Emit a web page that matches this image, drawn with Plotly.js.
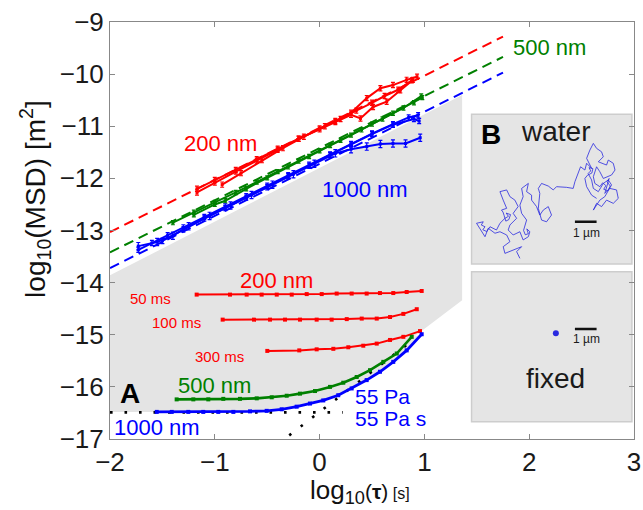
<!DOCTYPE html>
<html><head><meta charset="utf-8">
<script src="https://cdn.plot.ly/plotly-3.0.1.min.js"></script>
<style>html,body{margin:0;padding:0;background:#fff}#chart{width:643px;height:510px}</style>
</head><body><div id="chart"></div>
<script>
// ---------- Data ----------
// Diffusive reference lines (slope 1) in water: log10 MSD = log10 tau + c
const dashX = [-2, 1.75];
const dashRedC = -11.03, dashGreenC = -11.42, dashBlueC = -11.72;

// Upper group (water) - 200 nm (red)
const r1x = [-1.17,-1.0,-0.8,-0.6,-0.4,-0.2,0,0.15,0.3,0.45,0.58,0.7,0.83,0.93];
const r1y = [-12.27,-12.08,-11.87,-11.66,-11.45,-11.24,-11.04,-10.9,-10.74,-10.46,-10.27,-10.21,-10.11,-10.05];
const r2x = [-1.17,-1.0,-0.8,-0.6,-0.4,-0.2,0,0.15,0.3,0.39,0.51,0.64,0.77,0.89];
const r2y = [-12.2,-12.03,-11.84,-11.63,-11.43,-11.24,-11.06,-10.92,-10.78,-10.85,-10.63,-10.53,-10.31,-10.11];
const r3x = [-0.93,-0.75,-0.55,-0.35,-0.15,0.05,0.2,0.35,0.5,0.62,0.75,0.88];
const r3y = [-12.12,-11.9,-11.65,-11.42,-11.2,-11.0,-10.86,-10.7,-10.55,-10.42,-10.3,-10.12];
// 500 nm (green)
const g1x = [-1.4,-1.2,-1.0,-0.8,-0.6,-0.4,-0.2,0,0.2,0.4,0.6,0.8,0.97];
const g1y = [-12.85,-12.65,-12.46,-12.27,-12.07,-11.87,-11.67,-11.47,-11.27,-11.07,-10.86,-10.65,-10.42];
const g2x = [-1.2,-1.0,-0.9,-0.7,-0.5,-0.3,-0.1,0.1,0.3,0.5,0.7,0.9,0.98];
const g2y = [-12.7,-12.5,-12.43,-12.2,-11.99,-11.78,-11.58,-11.37,-11.17,-10.96,-10.75,-10.55,-10.45];
// 1000 nm (blue)
const b1x = [-1.73,-1.6,-1.45,-1.3,-1.1,-0.9,-0.7,-0.5,-0.3,-0.1,0.1,0.3,0.5,0.7,0.85,0.94];
const b1y = [-13.37,-13.24,-13.09,-12.94,-12.74,-12.54,-12.34,-12.14,-11.94,-11.74,-11.54,-11.34,-11.14,-10.96,-10.83,-10.79];
const b2x = [-1.73,-1.55,-1.4,-1.25,-1.05,-0.85,-0.65,-0.45,-0.25,-0.05,0.15,0.3,0.45,0.58,0.7,0.82,0.96];
const b2y = [-13.3,-13.22,-13.1,-12.92,-12.72,-12.52,-12.32,-12.12,-11.92,-11.72,-11.52,-11.44,-11.39,-11.34,-11.33,-11.33,-11.22];
const b3x = [-1.5,-1.3,-1.1,-0.9,-0.7,-0.5,-0.3,-0.1,0.1,0.3,0.5,0.7,0.9,0.95];
const b3y = [-13.2,-12.98,-12.77,-12.57,-12.37,-12.17,-11.96,-11.76,-11.55,-11.35,-11.15,-10.97,-10.86,-10.9];

// Lower group (gel) - 200 nm at different exposure times
const r50x = [-1.173,-0.855,-0.696,-0.553,-0.409,-0.266,-0.123,0.020,0.163,0.306,0.449,0.576,0.703,0.831,0.974];
const r50y = [-14.23,-14.23,-14.23,-14.23,-14.23,-14.23,-14.22,-14.22,-14.21,-14.21,-14.21,-14.20,-14.20,-14.18,-14.16];
const r100x = [-0.925,-0.626,-0.473,-0.330,-0.187,-0.028,0.115,0.259,0.402,0.545,0.672,0.799,0.927];
const r100y = [-14.71,-14.71,-14.71,-14.71,-14.71,-14.71,-14.71,-14.70,-14.69,-14.69,-14.66,-14.60,-14.51];
const r300x = [-0.499,-0.194,-0.028,0.131,0.274,0.417,0.545,0.672,0.799,0.958];
const r300y = [-15.31,-15.30,-15.28,-15.27,-15.24,-15.21,-15.17,-15.10,-15.04,-14.93];
// 500 nm gel
const gLx = [-1.364,-1.205,-1.062,-0.919,-0.760,-0.600,-0.457,-0.314,-0.187,-0.044,0.099,0.226,0.354,0.481,0.608,0.736,0.879];
const gLy = [-16.24,-16.24,-16.24,-16.23,-16.23,-16.22,-16.20,-16.17,-16.13,-16.08,-16.00,-15.92,-15.81,-15.68,-15.52,-15.36,-15.04];
// 1000 nm gel
const bLx = [-1.554,-1.411,-1.253,-1.110,-0.967,-0.823,-0.664,-0.505,-0.362,-0.219,-0.092,0.035,0.178,0.306,0.449,0.576,0.703,0.831,0.974];
const bLy = [-16.48,-16.48,-16.48,-16.48,-16.48,-16.48,-16.47,-16.46,-16.43,-16.38,-16.32,-16.26,-16.16,-16.03,-15.87,-15.71,-15.52,-15.30,-14.99];
// Asymptotes: elastic plateau (55 Pa) and viscous branch (55 Pa s)
const elasX = [-2, 0.22], elasY = [-16.49, -16.49];
const viscX = [-0.29, 0.84], viscY = [-16.93, -15.18];

// Shaded region vertices
const shadeX = [-2, 1.36, 1.36, 0.9];
const shadeY = [-13.86, -10.4, -14.34, -15.04];

// Inset B trajectory in water (µm)
const trajX = [2.23,2.08,2.31,1.92,1.54,1.46,1.77,1.62,1.31,1.08,0.77,0.62,0.38,0.23,0.54,0.45,0.62,0.52,0.70,0.85,1.15,1.31,1.54,1.70,1.60,1.80,1.72,1.58,1.50,1.45,1.38,1.62,1.46,1.31,1.62,1.77,2.00,2.15,1.92,2.08,1.77,1.69,1.92,2.23,2.38,2.62,2.69,2.55,2.62,2.48,2.40,2.46,2.54,2.31,2.23,2.38,2.31,2.62,2.54,2.77,2.77,3.00,3.15,3.31,3.54,3.69,3.46,3.23,3.08,3.15,3.08,3.23,3.54,3.77,3.92,4.38,4.69,4.77,4.92,5.03,5.23,5.31,5.54,5.31,5.46,5.62,5.77,6.00,6.08,5.85,6.23,6.31,6.54,6.62,6.46,6.08,5.92,5.77,5.62,5.69,5.92,6.05,6.20,6.10,6.28,6.40,6.25,6.35,6.15,6.38,6.69,6.77,6.54,6.23,6.00,5.77,5.62,5.92,6.15,6.46,6.31,6.08,5.85,5.62,5.54,5.38,5.50,5.42,5.60,5.55,5.35,5.23,5.31,5.54,5.77];
const trajY = [0.26,0.57,0.80,0.65,0.49,0.80,1.03,1.34,1.49,1.42,1.65,1.26,1.65,1.88,1.95,1.80,1.72,1.58,1.50,1.72,1.57,1.88,2.11,2.20,2.35,2.28,2.05,1.98,2.25,2.40,2.49,2.57,2.95,3.34,3.42,3.11,2.95,2.65,2.34,2.11,1.80,1.57,1.34,1.49,1.11,1.26,1.49,1.62,1.40,1.35,1.55,1.72,2.03,2.34,2.72,3.11,3.49,3.72,3.34,3.18,2.95,2.65,2.26,2.49,2.65,2.26,1.95,2.03,2.57,3.26,3.49,3.72,3.60,3.42,3.57,3.54,3.49,3.80,4.26,4.49,4.34,4.65,4.42,4.88,5.26,5.57,5.34,5.18,4.95,4.72,4.57,4.80,4.65,4.34,4.11,3.95,4.26,4.49,4.03,3.72,3.57,3.75,3.62,3.45,3.38,3.60,3.80,3.95,3.26,3.49,3.42,3.03,2.80,2.95,2.65,2.80,2.49,2.95,3.11,3.65,3.88,3.72,3.34,3.49,3.88,4.18,4.30,4.45,4.40,4.20,4.10,3.95,3.57,3.18,3.03];
const fixedX = [3.89], fixedY = [4.08];

// ---------- Styling ----------
const FONT = 'Liberation Sans, Arial, sans-serif';
const RED = '#ff0000', GREEN = '#008000', BLUE = '#0000ff';

function upper(x, y, c, ev) {
  return {x, y, type:'scatter', mode:'lines+markers', line:{color:c, width:2},
    marker:{color:c, size:3, symbol:'square'},
    error_y:{type:'constant', value:ev, color:c, thickness:1.2, width:2},
    hoverinfo:'skip', showlegend:false, xaxis:'x', yaxis:'y'};
}
function lower(x, y, c, w) {
  return {x, y, type:'scatter', mode:'lines+markers', line:{color:c, width:w},
    marker:{color:c, size:4, symbol:'square'}, hoverinfo:'skip', showlegend:false};
}
function dashLine(c, col) {
  return {x: dashX, y: dashX.map(v => v + c), type:'scatter', mode:'lines',
    line:{color:col, width:2, dash:'10px,6px'}, hoverinfo:'skip', showlegend:false};
}

const traces = [
  {x: shadeX.concat(bLx.slice().reverse(), [-2]), y: shadeY.concat(bLy.slice().reverse(), [-16.48]),
   type:'scatter', mode:'lines', fill:'toself', fillcolor:'#e4e4e4', line:{width:0}, hoverinfo:'skip', showlegend:false},
  dashLine(dashRedC, RED), dashLine(dashGreenC, GREEN), dashLine(dashBlueC, BLUE),
  upper(r1x, r1y, RED, 0.05), upper(r2x, r2y, RED, 0.05), upper(r3x, r3y, RED, 0.05),
  upper(g1x, g1y, GREEN, 0.04), upper(g2x, g2y, GREEN, 0.04),
  upper(b1x, b1y, BLUE, 0.05), upper(b2x, b2y, BLUE, 0.07), upper(b3x, b3y, BLUE, 0.05),
  {x: elasX, y: elasY, type:'scatter', mode:'lines', line:{color:'#000', width:2.6, dash:'2.6px,11.9px'}, hoverinfo:'skip', showlegend:false},
  {x: viscX, y: viscY, type:'scatter', mode:'lines', line:{color:'#000', width:2.6, dash:'2.6px,11.9px'}, hoverinfo:'skip', showlegend:false},
  lower(r50x, r50y, RED, 2), lower(r100x, r100y, RED, 2), lower(r300x, r300y, RED, 2),
  lower(gLx, gLy, GREEN, 2.6), lower(bLx, bLy, BLUE, 2.8),
  {x: trajX, y: trajY, type:'scatter', mode:'lines', line:{color:'#2a2ae0', width:0.8}, xaxis:'x2', yaxis:'y2', hoverinfo:'skip', showlegend:false},
  {x: fixedX, y: fixedY, type:'scatter', mode:'markers', marker:{color:'#2a2ae0', size:6}, xaxis:'x3', yaxis:'y3', hoverinfo:'skip', showlegend:false}
];

const axCommon = {ticks:'inside', ticklen:5, tickwidth:1, tickcolor:'#888', showline:true, linecolor:'#888', linewidth:1,
  mirror:'ticks', zeroline:false, showgrid:false, tickfont:{family:FONT, size:26, color:'#1a1a1a'}};
const inset = {visible:false, showgrid:false, zeroline:false, fixedrange:true};

function txt(x, y, t, size, color, extra) {
  return Object.assign({x, y, xref:'x', yref:'y', text:t, showarrow:false, font:{family:FONT, size, color},
    xanchor:'center', yanchor:'middle'}, extra || {});
}
function ptxt(x, y, ax, t, size, color) {
  return {x, y, xref:'x' + ax, yref:'y' + ax, text:t, showarrow:false, xanchor:'center', yanchor:'middle',
    font:{family:FONT, size, color}};
}

const layout = {
  width:643, height:510, margin:{l:110, r:9, t:22, b:71},
  paper_bgcolor:'#fff', plot_bgcolor:'rgba(0,0,0,0)',
  font:{family:FONT},
  xaxis: Object.assign({range:[-2,3], tick0:0, dtick:1}, axCommon),
  yaxis: Object.assign({range:[-17,-9], tick0:0, dtick:1}, axCommon),
  xaxis2: Object.assign({domain:[0.690,0.996], range:[0,7.40], anchor:'y2'}, inset),
  yaxis2: Object.assign({domain:[0.4197,0.779], range:[0,6.92], anchor:'x2'}, inset),
  xaxis3: Object.assign({domain:[0.690,0.996], range:[0,7.40], anchor:'y3'}, inset),
  yaxis3: Object.assign({domain:[0.0415,0.401], range:[0,6.92], anchor:'x3'}, inset),
  shapes: [
    {type:'rect', xref:'paper', yref:'paper', x0:0.690, x1:0.996, y0:0.4197, y1:0.779, fillcolor:'#e5e5e5', line:{color:'#cdcdcd', width:1.5}, layer:'below'},
    {type:'rect', xref:'paper', yref:'paper', x0:0.690, x1:0.996, y0:0.0415, y1:0.401, fillcolor:'#e5e5e5', line:{color:'#cdcdcd', width:1.5}, layer:'below'},
    {type:'line', xref:'x2', yref:'y2', x0:4.77, x1:5.77, y0:1.95, y1:1.95, line:{color:'#111', width:2.5}},
    {type:'line', xref:'x3', yref:'y3', x0:4.77, x1:5.77, y0:4.28, y1:4.28, line:{color:'#111', width:2.5}}
  ],
  annotations: [
    txt(-0.95, -11.33, '200 nm', 22, RED),
    txt(0.433, -12.22, '1000 nm', 22, BLUE),
    txt(2.194, -9.49, '500 nm', 22, GREEN),
    txt(-0.409, -13.96, '200 nm', 22, RED),
    txt(-1.618, -14.30, '50 ms', 15, RED),
    txt(-1.37, -14.77, '100 ms', 15, RED),
    txt(-0.953, -15.41, '300 ms', 15, RED),
    txt(-1.0, -15.97, '500 nm', 22, GREEN),
    txt(-1.81, -16.13, '<b>A</b>', 28, '#000'),
    txt(-1.547, -16.77, '1000 nm', 22, BLUE),
    txt(0.32, -16.18, '55 Pa', 21, BLUE, {xanchor:'left'}),
    txt(0.32, -16.60, '55 Pa s', 21, BLUE, {xanchor:'left'}),
    ptxt(0.92, 6.0, 2, '<b>B</b>', 28, '#000'),
    ptxt(3.89, 6.14, 2, 'water', 28, '#1a1a1a'),
    ptxt(5.31, 1.42, 2, '1 µm', 12, '#1a1a1a'),
    ptxt(5.31, 3.80, 3, '1 µm', 12, '#1a1a1a'),
    ptxt(3.89, 2.0, 3, 'fixed', 28, '#1a1a1a'),
    {x:-0.143, y:0.576, xref:'paper', yref:'paper', xanchor:'center', yanchor:'middle', textangle:-90, showarrow:false,
     text:'log<sub>10</sub>(MSD) [m<sup>2</sup>]', font:{family:FONT, size:28, color:'#111'}},
    {x:0.477, y:-0.127, xref:'paper', yref:'paper', xanchor:'center', yanchor:'middle', showarrow:false,
     text:'log<sub>10</sub><span style="font-size:21px">(<b>τ</b>)</span><span style="font-size:16px"> [s]</span>', font:{family:FONT, size:26, color:'#111'}}
  ]
};

Plotly.newPlot('chart', traces, layout, {staticPlot:true, displayModeBar:false});
</script></body></html>
